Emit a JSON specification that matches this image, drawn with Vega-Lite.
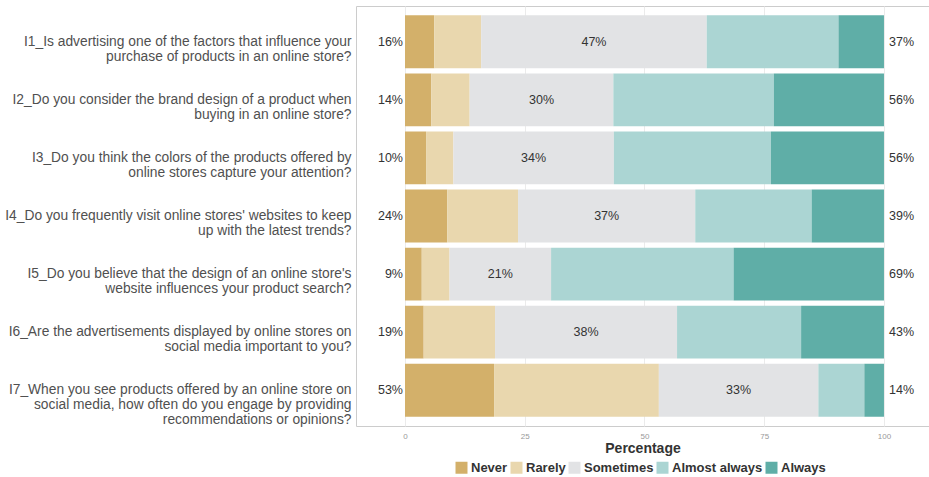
{
  "$schema": "https://vega.github.io/schema/vega-lite/v6.json",
  "width": 573,
  "height": 420,
  "autosize": {"type": "none"},
  "padding": {"left": 356, "top": 6, "right": 0, "bottom": 51},
  "background": "white",
  "config": {"view": {"stroke": "#cccccc", "strokeWidth": 1}, "font": "Liberation Sans"},
  "datasets": {
    "resp": [
      {"question": "I1_Is advertising one of the factors that influence your\npurchase of products in an online store?", "response": "Never", "value": 6.1},
      {"question": "I1_Is advertising one of the factors that influence your\npurchase of products in an online store?", "response": "Rarely", "value": 9.8},
      {"question": "I1_Is advertising one of the factors that influence your\npurchase of products in an online store?", "response": "Sometimes", "value": 47.1},
      {"question": "I1_Is advertising one of the factors that influence your\npurchase of products in an online store?", "response": "Almost always", "value": 27.5},
      {"question": "I1_Is advertising one of the factors that influence your\npurchase of products in an online store?", "response": "Always", "value": 9.5},
      {"question": "I2_Do you consider the brand design of a product when\nbuying in an online store?", "response": "Never", "value": 5.5},
      {"question": "I2_Do you consider the brand design of a product when\nbuying in an online store?", "response": "Rarely", "value": 8.0},
      {"question": "I2_Do you consider the brand design of a product when\nbuying in an online store?", "response": "Sometimes", "value": 30.0},
      {"question": "I2_Do you consider the brand design of a product when\nbuying in an online store?", "response": "Almost always", "value": 33.5},
      {"question": "I2_Do you consider the brand design of a product when\nbuying in an online store?", "response": "Always", "value": 23.0},
      {"question": "I3_Do you think the colors of the products offered by\nonline stores capture your attention?", "response": "Never", "value": 4.4},
      {"question": "I3_Do you think the colors of the products offered by\nonline stores capture your attention?", "response": "Rarely", "value": 5.7},
      {"question": "I3_Do you think the colors of the products offered by\nonline stores capture your attention?", "response": "Sometimes", "value": 33.5},
      {"question": "I3_Do you think the colors of the products offered by\nonline stores capture your attention?", "response": "Almost always", "value": 32.8},
      {"question": "I3_Do you think the colors of the products offered by\nonline stores capture your attention?", "response": "Always", "value": 23.6},
      {"question": "I4_Do you frequently visit online stores' websites to keep\nup with the latest trends?", "response": "Never", "value": 8.8},
      {"question": "I4_Do you frequently visit online stores' websites to keep\nup with the latest trends?", "response": "Rarely", "value": 14.8},
      {"question": "I4_Do you frequently visit online stores' websites to keep\nup with the latest trends?", "response": "Sometimes", "value": 37.0},
      {"question": "I4_Do you frequently visit online stores' websites to keep\nup with the latest trends?", "response": "Almost always", "value": 24.3},
      {"question": "I4_Do you frequently visit online stores' websites to keep\nup with the latest trends?", "response": "Always", "value": 15.1},
      {"question": "I5_Do you believe that the design of an online store's\nwebsite influences your product search?", "response": "Never", "value": 3.5},
      {"question": "I5_Do you believe that the design of an online store's\nwebsite influences your product search?", "response": "Rarely", "value": 5.8},
      {"question": "I5_Do you believe that the design of an online store's\nwebsite influences your product search?", "response": "Sometimes", "value": 21.2},
      {"question": "I5_Do you believe that the design of an online store's\nwebsite influences your product search?", "response": "Almost always", "value": 38.1},
      {"question": "I5_Do you believe that the design of an online store's\nwebsite influences your product search?", "response": "Always", "value": 31.4},
      {"question": "I6_Are the advertisements displayed by online stores on\nsocial media important to you?", "response": "Never", "value": 3.9},
      {"question": "I6_Are the advertisements displayed by online stores on\nsocial media important to you?", "response": "Rarely", "value": 14.9},
      {"question": "I6_Are the advertisements displayed by online stores on\nsocial media important to you?", "response": "Sometimes", "value": 38.0},
      {"question": "I6_Are the advertisements displayed by online stores on\nsocial media important to you?", "response": "Almost always", "value": 25.9},
      {"question": "I6_Are the advertisements displayed by online stores on\nsocial media important to you?", "response": "Always", "value": 17.3},
      {"question": "I7_When you see products offered by an online store on\nsocial media, how often do you engage by providing\nrecommendations or opinions?", "response": "Never", "value": 18.6},
      {"question": "I7_When you see products offered by an online store on\nsocial media, how often do you engage by providing\nrecommendations or opinions?", "response": "Rarely", "value": 34.4},
      {"question": "I7_When you see products offered by an online store on\nsocial media, how often do you engage by providing\nrecommendations or opinions?", "response": "Sometimes", "value": 33.3},
      {"question": "I7_When you see products offered by an online store on\nsocial media, how often do you engage by providing\nrecommendations or opinions?", "response": "Almost always", "value": 9.6},
      {"question": "I7_When you see products offered by an online store on\nsocial media, how often do you engage by providing\nrecommendations or opinions?", "response": "Always", "value": 4.1}
    ],
    "labels": [
      {"question": "I1_Is advertising one of the factors that influence your\npurchase of products in an online store?", "low": 16, "high": 37},
      {"question": "I2_Do you consider the brand design of a product when\nbuying in an online store?", "low": 14, "high": 56},
      {"question": "I3_Do you think the colors of the products offered by\nonline stores capture your attention?", "low": 10, "high": 56},
      {"question": "I4_Do you frequently visit online stores' websites to keep\nup with the latest trends?", "low": 24, "high": 39},
      {"question": "I5_Do you believe that the design of an online store's\nwebsite influences your product search?", "low": 9, "high": 69},
      {"question": "I6_Are the advertisements displayed by online stores on\nsocial media important to you?", "low": 19, "high": 43},
      {"question": "I7_When you see products offered by an online store on\nsocial media, how often do you engage by providing\nrecommendations or opinions?", "low": 53, "high": 14}
    ]
  },
  "encoding": {
    "y": {
      "field": "question",
      "type": "nominal",
      "scale": {"paddingInner": 0.09, "paddingOuter": 0.16},
      "axis": {
        "title": null,
        "ticks": false,
        "domain": false,
        "grid": false,
        "labelPadding": 5,
        "labelFontSize": 13.8,
        "labelColor": "#505050",
        "labelLineHeight": 15,
        "labelLimit": 400,
        "labelExpr": "split(datum.value, '\\n')"
      }
    }
  },
  "layer": [
    {
      "data": {"name": "resp"},
      "transform": [
        {"calculate": "indexof(['Never','Rarely','Sometimes','Almost always','Always'], datum.response)", "as": "rank"},
        {"stack": "value", "groupby": ["question"], "sort": [{"field": "rank", "order": "ascending"}], "as": ["x0", "x1"]}
      ],
      "mark": {"type": "bar"},
      "encoding": {
        "x": {
          "field": "x0",
          "type": "quantitative",
          "scale": {"domain": [-10.23, 109.4], "nice": false, "zero": false},
          "axis": {
            "values": [0, 25, 50, 75, 100],
            "title": "Percentage",
            "titleFont": "Liberation Sans",
            "titleFontSize": 14,
            "titleFontWeight": "bold",
            "titleColor": "#333333",
            "titlePadding": 1,
            "labelFontSize": 8,
            "labelColor": "#999999",
            "labelPadding": 6,
            "ticks": false,
            "domain": false,
            "grid": true,
            "gridColor": "#ebebeb"
          }
        },
        "x2": {"field": "x1"},
        "color": {
          "field": "response",
          "type": "nominal",
          "scale": {
            "domain": ["Never", "Rarely", "Sometimes", "Almost always", "Always"],
            "range": ["#D3B06A", "#E9D7AE", "#E2E3E5", "#ABD5D3", "#5FAEA7"]
          },
          "legend": {
            "orient": "none",
            "legendX": 99,
            "legendY": 455,
            "direction": "horizontal",
            "title": null,
            "symbolType": "square",
            "symbolSize": 144,
            "symbolStrokeWidth": 0,
            "labelFont": "Liberation Sans",
            "labelFontSize": 13,
            "labelFontWeight": "bold",
            "labelColor": "#333333",
            "labelOffset": 3,
            "columnPadding": 2
          }
        }
      }
    },
    {
      "data": {"name": "resp"},
      "transform": [
        {"calculate": "indexof(['Never','Rarely','Sometimes','Almost always','Always'], datum.response)", "as": "rank"},
        {"stack": "value", "groupby": ["question"], "sort": [{"field": "rank", "order": "ascending"}], "as": ["x0", "x1"]},
        {"filter": "datum.response === 'Sometimes'"},
        {"calculate": "(datum.x0 + datum.x1) / 2", "as": "mid"},
        {"calculate": "round(datum.value) + '%'", "as": "midText"}
      ],
      "mark": {"type": "text", "fontSize": 12.5, "color": "#333333"},
      "encoding": {
        "x": {"field": "mid", "type": "quantitative"},
        "text": {"field": "midText"}
      }
    },
    {
      "data": {"name": "labels"},
      "transform": [{"calculate": "datum.low + '%'", "as": "lowText"}],
      "mark": {"type": "text", "fontSize": 12.5, "color": "#333333", "align": "right", "dx": -2},
      "encoding": {
        "x": {"datum": 0, "type": "quantitative"},
        "text": {"field": "lowText"}
      }
    },
    {
      "data": {"name": "labels"},
      "transform": [{"calculate": "datum.high + '%'", "as": "highText"}],
      "mark": {"type": "text", "fontSize": 12.5, "color": "#333333", "align": "left", "dx": 5},
      "encoding": {
        "x": {"datum": 100, "type": "quantitative"},
        "text": {"field": "highText"}
      }
    }
  ]
}
